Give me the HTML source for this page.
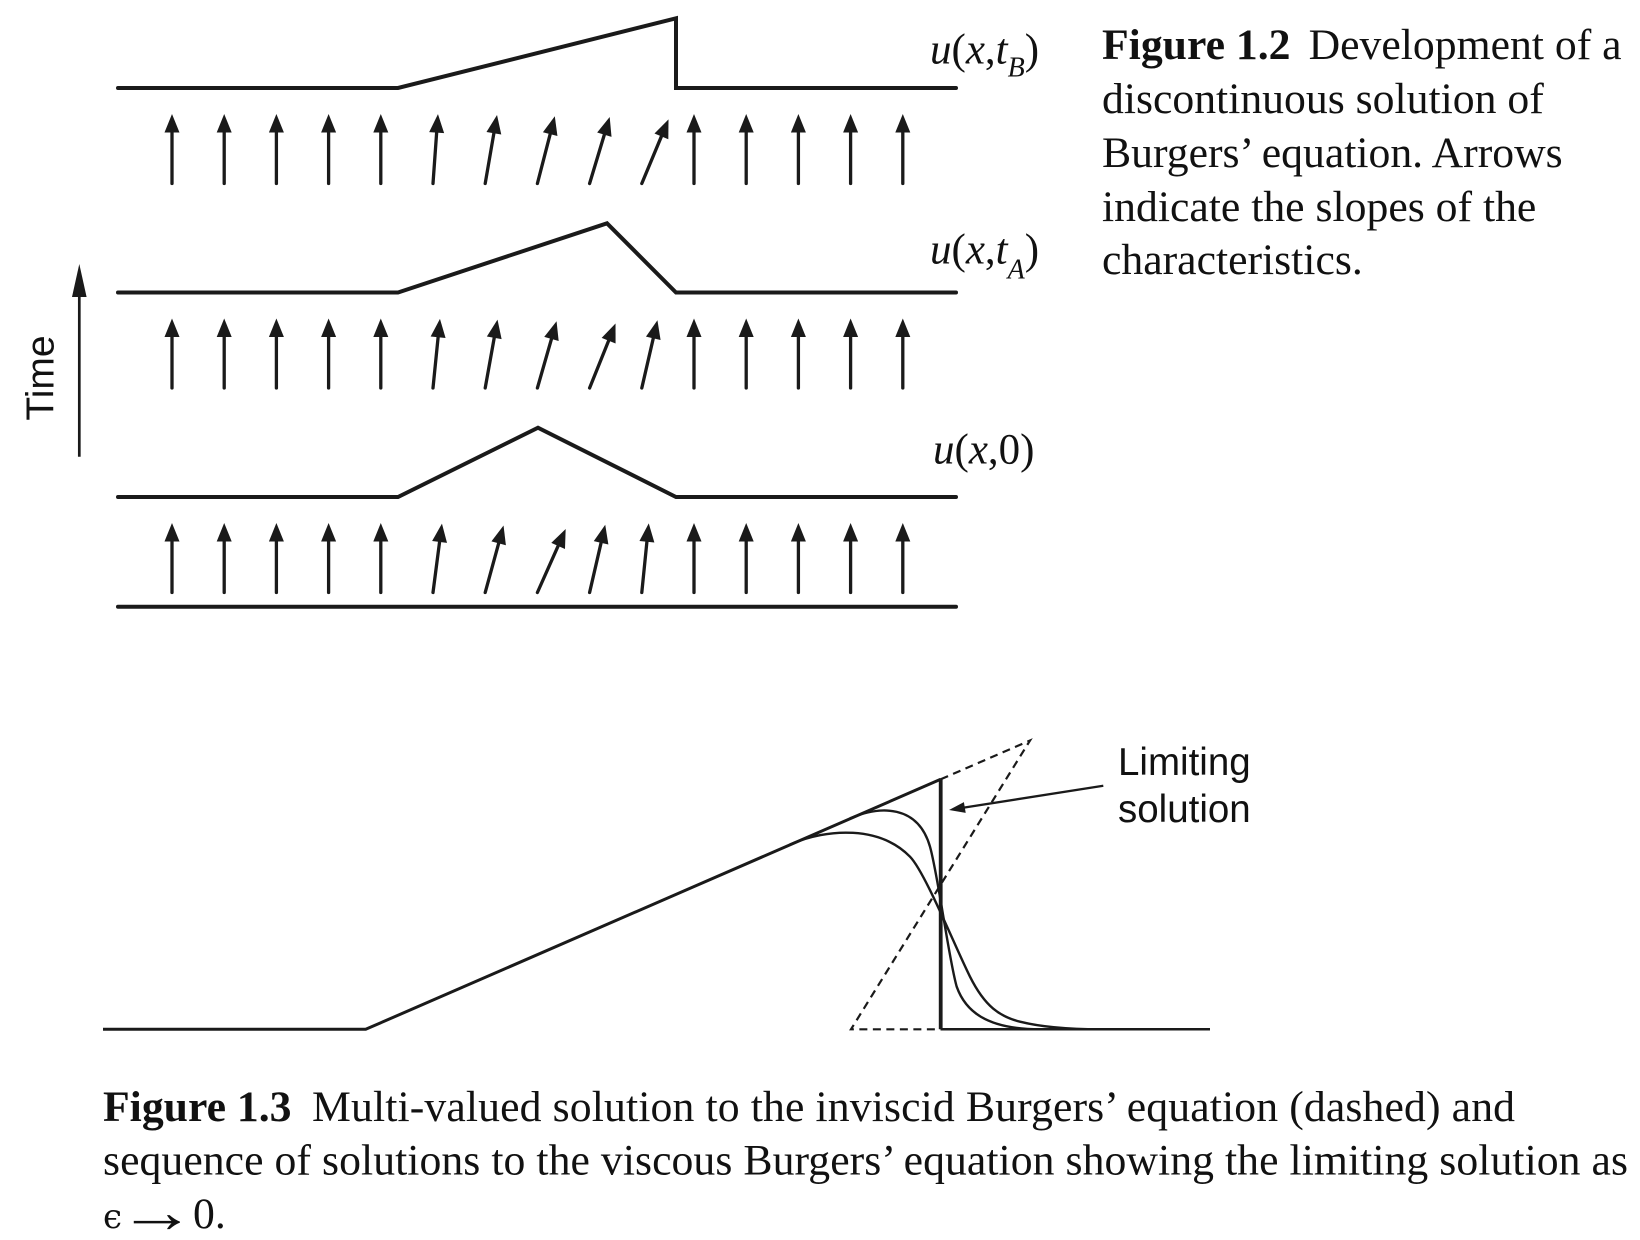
<!DOCTYPE html>
<html>
<head>
<meta charset="utf-8">
<style>
  html,body{margin:0;padding:0;background:#ffffff;}
  svg{display:block;}
</style>
</head>
<body>
<svg xmlns="http://www.w3.org/2000/svg" width="1640" height="1240" viewBox="0 0 1640 1240">
  <rect x="0" y="0" width="1640" height="1240" fill="#ffffff"/>
  <defs>
    <g id="arr">
      <line x1="0" y1="0" x2="0" y2="-53" stroke="#1a1a1a" stroke-width="3.3" stroke-linecap="round"/>
      <path d="M0,-69.5 L-7.5,-51 L7.5,-51 Z" fill="#1a1a1a"/>
    </g>
  </defs>

  <!-- ===== Figure 1.2 curves ===== -->
  <g fill="none" stroke="#1a1a1a" stroke-width="4" stroke-linecap="round" stroke-linejoin="miter" stroke-miterlimit="10">
    <path d="M118,88 L398,88 L676,18.3 L676,88 L956,88"/>
    <path d="M118,292.5 L398,292.5 L607,223.3 L676,292.5 L956,292.5"/>
    <path d="M118,497 L398,497 L538,427.7 L676,497 L956,497"/>
    <path d="M118,606.7 L956,606.7"/>
  </g>

  <!-- Row 1 arrows -->
  <g>
    <use href="#arr" transform="translate(172,183.5)"/>
    <use href="#arr" transform="translate(224.2,183.5)"/>
    <use href="#arr" transform="translate(276.4,183.5)"/>
    <use href="#arr" transform="translate(328.6,183.5)"/>
    <use href="#arr" transform="translate(380.8,183.5)"/>
    <use href="#arr" transform="translate(433,183.5) rotate(4.1)"/>
    <use href="#arr" transform="translate(485.2,183.5) rotate(9.8)"/>
    <use href="#arr" transform="translate(537.4,183.5) rotate(14.5)"/>
    <use href="#arr" transform="translate(589.6,183.5) rotate(16.8)"/>
    <use href="#arr" transform="translate(641.8,183.5) rotate(22.6)"/>
    <use href="#arr" transform="translate(694,183.5)"/>
    <use href="#arr" transform="translate(746.2,183.5)"/>
    <use href="#arr" transform="translate(798.4,183.5)"/>
    <use href="#arr" transform="translate(850.6,183.5)"/>
    <use href="#arr" transform="translate(902.8,183.5)"/>
  </g>

  <!-- Row 2 arrows -->
  <g>
    <use href="#arr" transform="translate(172,388)"/>
    <use href="#arr" transform="translate(224.2,388)"/>
    <use href="#arr" transform="translate(276.4,388)"/>
    <use href="#arr" transform="translate(328.6,388)"/>
    <use href="#arr" transform="translate(380.8,388)"/>
    <use href="#arr" transform="translate(433,388) rotate(5.75)"/>
    <use href="#arr" transform="translate(485.2,388) rotate(10.2)"/>
    <use href="#arr" transform="translate(537.4,388) rotate(16)"/>
    <use href="#arr" transform="translate(589.6,388) rotate(21.9)"/>
    <use href="#arr" transform="translate(641.8,388) rotate(13)"/>
    <use href="#arr" transform="translate(694,388)"/>
    <use href="#arr" transform="translate(746.2,388)"/>
    <use href="#arr" transform="translate(798.4,388)"/>
    <use href="#arr" transform="translate(850.6,388)"/>
    <use href="#arr" transform="translate(902.8,388)"/>
  </g>

  <!-- Row 3 arrows -->
  <g>
    <use href="#arr" transform="translate(172,592.5)"/>
    <use href="#arr" transform="translate(224.2,592.5)"/>
    <use href="#arr" transform="translate(276.4,592.5)"/>
    <use href="#arr" transform="translate(328.6,592.5)"/>
    <use href="#arr" transform="translate(380.8,592.5)"/>
    <use href="#arr" transform="translate(433,592.5) rotate(7.4)"/>
    <use href="#arr" transform="translate(485.2,592.5) rotate(15.3)"/>
    <use href="#arr" transform="translate(537.4,592.5) rotate(24)"/>
    <use href="#arr" transform="translate(589.6,592.5) rotate(13)"/>
    <use href="#arr" transform="translate(641.8,592.5) rotate(5.75)"/>
    <use href="#arr" transform="translate(694,592.5)"/>
    <use href="#arr" transform="translate(746.2,592.5)"/>
    <use href="#arr" transform="translate(798.4,592.5)"/>
    <use href="#arr" transform="translate(850.6,592.5)"/>
    <use href="#arr" transform="translate(902.8,592.5)"/>
  </g>

  <!-- Time axis arrow -->
  <line x1="79.3" y1="456.7" x2="79.3" y2="292" stroke="#1a1a1a" stroke-width="2.7"/>
  <path d="M79.3,264 L72,297 L86.6,297 Z" fill="#1a1a1a"/>
  <text transform="translate(53.5,378) rotate(-90)" text-anchor="middle" font-family="'Liberation Sans', Arial, sans-serif" font-size="39" fill="#111">Time</text>

  <!-- Curve labels -->
  <g font-family="'Liberation Serif', 'Times New Roman', serif" font-size="43" fill="#111">
    <text x="930" y="63.3"><tspan font-style="italic">u</tspan>(<tspan font-style="italic">x</tspan>,<tspan font-style="italic">t</tspan><tspan font-style="italic" font-size="28" dy="13">B</tspan><tspan dy="-13">)</tspan></text>
    <text x="930" y="263.3"><tspan font-style="italic">u</tspan>(<tspan font-style="italic">x</tspan>,<tspan font-style="italic">t</tspan><tspan font-style="italic" font-size="28" dy="15">A</tspan><tspan dy="-15">)</tspan></text>
    <text x="933" y="463.3"><tspan font-style="italic">u</tspan>(<tspan font-style="italic">x</tspan>,0)</text>
  </g>

  <!-- Figure 1.2 caption -->
  <g font-family="'Liberation Serif', 'Times New Roman', serif" font-size="43.7" fill="#111">
    <text x="1102" y="59"><tspan font-weight="bold">Figure 1.2</tspan><tspan x="1308.6">Development of a</tspan></text>
    <text x="1102" y="113">discontinuous solution of</text>
    <text x="1102" y="167">Burgers’ equation. Arrows</text>
    <text x="1102" y="221">indicate the slopes of the</text>
    <text x="1102" y="274">characteristics.</text>
  </g>

  <!-- ===== Figure 1.3 ===== -->
  <g fill="none" stroke="#1a1a1a">
    <path d="M940.7,779.3 L1030,740.5 L851,1029.3 L940.7,1029.3" stroke-width="2.2" stroke-dasharray="8 5.5"/>
    <path d="M103,1029.3 L365.7,1029.3 L940.7,779.3" stroke-width="3" stroke-linejoin="miter"/>
    <path d="M940.7,779.3 L940.7,1029.3" stroke-width="3.8"/>
    <path d="M940.7,1029.3 L1210,1029.3" stroke-width="2.5"/>
    <path d="M850,818.4 C880,805.3 918,804.7 930,846.7 C938,874.7 948.7,958.7 956.7,986.7 C965,1010 985,1029.3 1040,1029.3" stroke-width="2.4"/>
    <path d="M790,844.5 C828,827.9 880,826 910,856.7 C925,872 955,946.7 970,976.7 C985,1006.7 1000,1016.7 1020,1021.7 C1040,1026.7 1065,1029.3 1100,1029.3" stroke-width="2.4"/>
    <line x1="1103.3" y1="785.7" x2="963" y2="807.8" stroke-width="2.3"/>
  </g>
  <path d="M949,810 L965.7,812.9 L963.9,802.1 Z" fill="#1a1a1a"/>

  <g font-family="'Liberation Sans', Arial, sans-serif" font-size="38.5" fill="#111">
    <text x="1118" y="775">Limiting</text>
    <text x="1118" y="822">solution</text>
  </g>

  <!-- Figure 1.3 caption -->
  <g font-family="'Liberation Serif', 'Times New Roman', 'DejaVu Serif', serif" font-size="43.7" fill="#111">
    <text x="103" y="1121"><tspan font-weight="bold">Figure 1.3</tspan></text>
    <text x="312" y="1121" textLength="1203" lengthAdjust="spacing">Multi-valued solution to the inviscid Burgers’ equation (dashed) and</text>
    <text x="103" y="1174.5" textLength="1525" lengthAdjust="spacing">sequence of solutions to the viscous Burgers’ equation showing the limiting solution as</text>
    <text x="103" y="1228" font-family="'DejaVu Serif', 'Liberation Serif', serif" font-size="34">ϵ</text>
    <text transform="translate(118,1232) scale(1.3,1)" font-family="'Liberation Serif', serif" font-size="60">→</text>
    <text x="193" y="1228">0.</text>
  </g>
</svg>
</body>
</html>
